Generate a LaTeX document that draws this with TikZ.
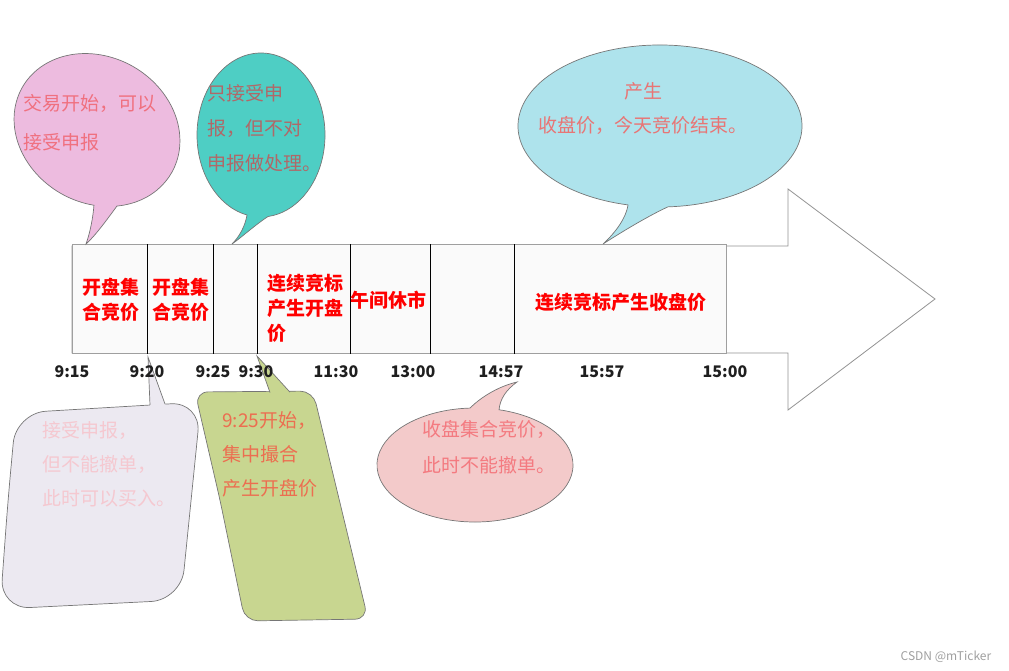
\documentclass[tikz,border=0pt]{standalone}
\usepackage{fontspec}
\setmainfont{Noto Sans CJK SC}
\usetikzlibrary{calc}
\definecolor{fA}{HTML}{EDBBDF}\definecolor{tA}{HTML}{F0707F}
\definecolor{fB}{HTML}{4ECEC4}\definecolor{tB}{HTML}{B06868}
\definecolor{fC}{HTML}{AEE3EC}\definecolor{tC}{HTML}{E87575}
\definecolor{fD}{HTML}{ECE9F1}\definecolor{tD}{HTML}{F5C8D0}
\definecolor{fE}{HTML}{C8D690}\definecolor{tE}{HTML}{EC6E50}
\definecolor{fF}{HTML}{F3CACA}\definecolor{tF}{HTML}{F47A80}
\definecolor{lineg}{HTML}{767676}
\begin{document}
\begin{tikzpicture}[x=1pt,y=-1pt,
  callout/.style={draw=lineg,line width=0.7pt},
  ctext/.style={inner sep=0,anchor=west,align=left},
  cell/.style={inner sep=0,text=red,align=center,font=\fontsize{19}{25}\selectfont\bfseries},
  tlabel/.style={inner sep=0,text=black!88,font=\fontsize{16}{18}\selectfont\bfseries},
  divider/.style={draw=black,line width=0.9pt}]
\useasboundingbox (0,0) rectangle (1009,671);

% big arrow
\path[draw=gray!85,fill=white,line width=0.8pt] (72,246) -- (788,246) -- (788,189) -- (935,299) -- (788,410) -- (788,353) -- (72,353) -- cycle;
% timeline bar
\node[draw=gray!75,fill=black!2,line width=1pt,minimum width=654pt,minimum height=109pt,inner sep=0,anchor=north west] (bar) at (72,244) {};
\foreach \x in {147,213,257,350,430,514}{\draw[divider] (\x,244) -- (\x,354);}

% callout A (pink, top left)
\coordinate (tipA) at (86,244);
\coordinate (a1) at (106,221); \coordinate (a2) at (95,236);
\coordinate (a3) at (90,233); \coordinate (a4) at (93,218);
\begin{scope}[shift={(97,130)},rotate=-30]
\coordinate (sA) at (66:86 and 73);
\path[callout,fill=fA] (sA) arc[start angle=66,end angle=410,x radius=86,y radius=73] .. controls (a1) and (a2) .. (tipA) .. controls (a3) and (a4) .. (sA) -- cycle;
\end{scope}
\node[ctext,text=tA,font=\fontsize{19}{39}\selectfont] (txtA) at (23,122.5) {交易开始，可以\\接受申报};

% callout B (teal)
\coordinate (tipB) at (232,244);
\coordinate (b1) at (255,225); \coordinate (b2) at (242,237);
\coordinate (b3) at (240,236); \coordinate (b4) at (245,226);
\begin{scope}[shift={(261,135)}]
\coordinate (sB) at (102.6:64 and 82);
\path[callout,fill=fB] (sB) arc[start angle=102.6,end angle=443.7,x radius=64,y radius=82] .. controls (b1) and (b2) .. (tipB) .. controls (b3) and (b4) .. (sB) -- cycle;
\end{scope}
\node[ctext,text=tB,font=\fontsize{19}{35}\selectfont] (txtB) at (207,128) {只接受申\\报，但不对\\申报做处理。};

% callout C (light blue)
\coordinate (tipC) at (603,244);
\coordinate (c1) at (648,216); \coordinate (c2) at (620,233);
\coordinate (c3) at (616,232); \coordinate (c4) at (626,218);
\begin{scope}[shift={(660,126)}]
\coordinate (sC) at (103:142 and 81);
\path[callout,fill=fC] (sC) arc[start angle=103,end angle=446.8,x radius=142,y radius=81] .. controls (c1) and (c2) .. (tipC) .. controls (c3) and (c4) .. (sC) -- cycle;
\end{scope}
\node[inner sep=0,align=center,text=tC,font=\fontsize{19}{34}\selectfont] (txtC) at (643,109) {产生\\收盘价，今天竞价结束。};

% callout D (lavender, bottom left)
\coordinate (tipD) at (148,357);
\coordinate (dL) at (150,405); \coordinate (dR) at (165,404);
\path[callout,fill=fD,rounded corners=30pt] (8,500) -- (16,413) -- (201,402) -- (181,600) -- (0,609) -- cycle;
\path[fill=fD] (tipD) -- ($(tipD)!1.1!(dL)$) -- ($(tipD)!1.1!(dR)$) -- cycle;
\draw[callout] (dL) -- (tipD) -- (dR);
\node[ctext,text=tD,font=\fontsize{19}{34}\selectfont] (txtD) at (42,464) {接受申报，\\但不能撤单，\\此时可以买入。};

% callout E (green)
\coordinate (tipE) at (257,356);
\coordinate (eL) at (270,392.5); \coordinate (eR) at (290,392.2);
\path[callout,fill=fE,rounded corners=13pt] (220,500) -- (195,392) -- (313,391) -- (368,619) -- (245,621) -- cycle;
\path[fill=fE] (tipE) -- ($(tipE)!1.1!(eL)$) -- ($(tipE)!1.1!(eR)$) -- cycle;
\draw[callout] (eL) -- (tipE) -- (eR);
\node[ctext,text=tE,font=\fontsize{19}{34}\selectfont] (txtE) at (222,454) {9:25开始，\\集中撮合\\产生开盘价};

% callout F (pink, bottom middle)
\coordinate (tipF) at (517,382);
\coordinate (f1) at (482,396); \coordinate (f2) at (500,386);
\coordinate (f3) at (506,390); \coordinate (f4) at (500,399);
\begin{scope}[shift={(475,465)}]
\coordinate (sF) at (-75.8:98 and 57);
\path[callout,fill=fF] (sF) arc[start angle=-75.8,end angle=267.1,x radius=98,y radius=57] .. controls (f1) and (f2) .. (tipF) .. controls (f3) and (f4) .. (sF) -- cycle;
\end{scope}
\node[ctext,text=tF,font=\fontsize{19}{36}\selectfont] (txtF) at (422,447) {收盘集合竞价，\\此时不能撤单。};

% cell labels
\node[cell] (c1t) at (111,299.5) {开盘集\\合竞价};
\node[cell] (c2t) at (181,299.5) {开盘集\\合竞价};
\node[cell,align=left,anchor=west] (c4t) at (267,308) {连续竞标\\产生开盘\\价};
\node[cell] (c5t) at (388,300) {午间休市};
\node[cell] (c7t) at (621,302) {连续竞标产生收盘价};

% time labels
\node[tlabel] (t915) at (72,372) {9:15};
\node[tlabel] (t920) at (147,372) {9:20};
\node[tlabel] (t925) at (213,372) {9:25};
\node[tlabel] (t930) at (256,372) {9:30};
\node[tlabel] (t1130) at (336,372) {11:30};
\node[tlabel] (t1300) at (413,372) {13:00};
\node[tlabel] (t1457) at (501,372) {14:57};
\node[tlabel] (t1557) at (602,372) {15:57};
\node[tlabel] (t1500) at (725,372) {15:00};

\node[inner sep=0,text=gray!75,font=\fontsize{12}{14}\selectfont] (wm) at (946,657) {CSDN @mTicker};
\end{tikzpicture}
\end{document}
